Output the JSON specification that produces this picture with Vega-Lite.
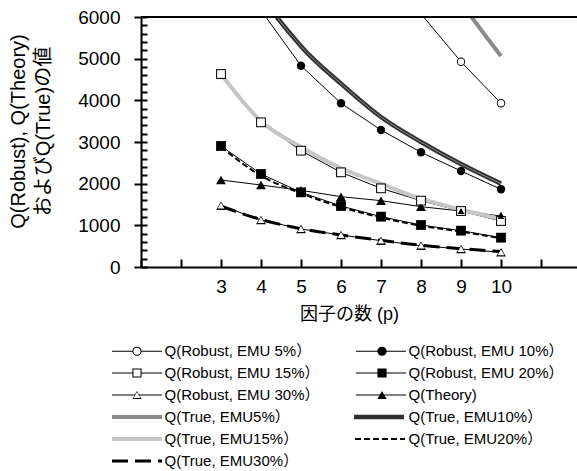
{
  "$schema": "https://vega.github.io/schema/vega-lite/v6.json",
  "width": 436,
  "height": 250,
  "autosize": {"type": "none"},
  "padding": {"left": 141, "top": 17, "right": 0, "bottom": 204},
  "background": "white",
  "config": {
    "view": {"stroke": null},
    "font": "Liberation Sans, Noto Sans CJK JP",
    "legend": {
      "title": null, "orient": "none", "legendX": -29.5, "legendY": 326.5,
      "direction": "horizontal", "columns": 2, "clipHeight": 15,
      "labelFontSize": 15, "labelFont": "Liberation Sans, Noto Sans CJK JP", "labelColor": "black",
      "rowPadding": 6, "columnPadding": 35, "padding": 0, "labelLimit": 0,
      "symbolType": "stroke", "symbolSize": 2500
    }
  },
  "resolve": {
    "scale": {"stroke": "independent", "shape": "independent", "fill": "independent"},
    "legend": {"stroke": "independent", "shape": "independent", "fill": "independent"},
    "axis": {"y": "independent"}
  },
  "datasets": {
    "d": [
      {"p": 3, "s": "Q(Robust, EMU 5%）", "v": 25000},
      {"p": 4, "s": "Q(Robust, EMU 5%）", "v": 17000},
      {"p": 5, "s": "Q(Robust, EMU 5%）", "v": 12500},
      {"p": 6, "s": "Q(Robust, EMU 5%）", "v": 9600},
      {"p": 7, "s": "Q(Robust, EMU 5%）", "v": 7600},
      {"p": 8, "s": "Q(Robust, EMU 5%）", "v": 6074},
      {"p": 9, "s": "Q(Robust, EMU 5%）", "v": 4927},
      {"p": 10, "s": "Q(Robust, EMU 5%）", "v": 3929},
      {"p": 3, "s": "Q(Robust, EMU 10%）", "v": 8100},
      {"p": 4, "s": "Q(Robust, EMU 10%）", "v": 6160},
      {"p": 5, "s": "Q(Robust, EMU 10%）", "v": 4831},
      {"p": 6, "s": "Q(Robust, EMU 10%）", "v": 3929},
      {"p": 7, "s": "Q(Robust, EMU 10%）", "v": 3288},
      {"p": 8, "s": "Q(Robust, EMU 10%）", "v": 2753},
      {"p": 9, "s": "Q(Robust, EMU 10%）", "v": 2304},
      {"p": 10, "s": "Q(Robust, EMU 10%）", "v": 1865},
      {"p": 3, "s": "Q(Robust, EMU 15%）", "v": 4632},
      {"p": 4, "s": "Q(Robust, EMU 15%）", "v": 3472},
      {"p": 5, "s": "Q(Robust, EMU 15%）", "v": 2792},
      {"p": 6, "s": "Q(Robust, EMU 15%）", "v": 2272},
      {"p": 7, "s": "Q(Robust, EMU 15%）", "v": 1888},
      {"p": 8, "s": "Q(Robust, EMU 15%）", "v": 1592},
      {"p": 9, "s": "Q(Robust, EMU 15%）", "v": 1344},
      {"p": 10, "s": "Q(Robust, EMU 15%）", "v": 1104},
      {"p": 3, "s": "Q(Robust, EMU 20%）", "v": 2904},
      {"p": 4, "s": "Q(Robust, EMU 20%）", "v": 2232},
      {"p": 5, "s": "Q(Robust, EMU 20%）", "v": 1792},
      {"p": 6, "s": "Q(Robust, EMU 20%）", "v": 1464},
      {"p": 7, "s": "Q(Robust, EMU 20%）", "v": 1208},
      {"p": 8, "s": "Q(Robust, EMU 20%）", "v": 1008},
      {"p": 9, "s": "Q(Robust, EMU 20%）", "v": 872},
      {"p": 10, "s": "Q(Robust, EMU 20%）", "v": 704},
      {"p": 3, "s": "Q(Robust, EMU 30%）", "v": 1472},
      {"p": 4, "s": "Q(Robust, EMU 30%）", "v": 1128},
      {"p": 5, "s": "Q(Robust, EMU 30%）", "v": 912},
      {"p": 6, "s": "Q(Robust, EMU 30%）", "v": 768},
      {"p": 7, "s": "Q(Robust, EMU 30%）", "v": 632},
      {"p": 8, "s": "Q(Robust, EMU 30%）", "v": 512},
      {"p": 9, "s": "Q(Robust, EMU 30%）", "v": 432},
      {"p": 10, "s": "Q(Robust, EMU 30%）", "v": 352},
      {"p": 3, "s": "Q(Theory)", "v": 2088},
      {"p": 4, "s": "Q(Theory)", "v": 1968},
      {"p": 5, "s": "Q(Theory)", "v": 1840},
      {"p": 6, "s": "Q(Theory)", "v": 1688},
      {"p": 7, "s": "Q(Theory)", "v": 1592},
      {"p": 8, "s": "Q(Theory)", "v": 1448},
      {"p": 9, "s": "Q(Theory)", "v": 1344},
      {"p": 10, "s": "Q(Theory)", "v": 1224},
      {"p": 3, "s": "Q(True, EMU5%）", "v": 30000},
      {"p": 4, "s": "Q(True, EMU5%）", "v": 20000},
      {"p": 5, "s": "Q(True, EMU5%）", "v": 15000},
      {"p": 6, "s": "Q(True, EMU5%）", "v": 11500},
      {"p": 7, "s": "Q(True, EMU5%）", "v": 9500},
      {"p": 8, "s": "Q(True, EMU5%）", "v": 7800},
      {"p": 9, "s": "Q(True, EMU5%）", "v": 6350},
      {"p": 10, "s": "Q(True, EMU5%）", "v": 5064},
      {"p": 3, "s": "Q(True, EMU10%）", "v": 8800},
      {"p": 4, "s": "Q(True, EMU10%）", "v": 6600},
      {"p": 5, "s": "Q(True, EMU10%）", "v": 5300},
      {"p": 6, "s": "Q(True, EMU10%）", "v": 4400},
      {"p": 7, "s": "Q(True, EMU10%）", "v": 3600},
      {"p": 8, "s": "Q(True, EMU10%）", "v": 3000},
      {"p": 9, "s": "Q(True, EMU10%）", "v": 2470},
      {"p": 10, "s": "Q(True, EMU10%）", "v": 2000},
      {"p": 3, "s": "Q(True, EMU15%）", "v": 4630},
      {"p": 4, "s": "Q(True, EMU15%）", "v": 3500},
      {"p": 5, "s": "Q(True, EMU15%）", "v": 2880},
      {"p": 6, "s": "Q(True, EMU15%）", "v": 2370},
      {"p": 7, "s": "Q(True, EMU15%）", "v": 2000},
      {"p": 8, "s": "Q(True, EMU15%）", "v": 1640},
      {"p": 9, "s": "Q(True, EMU15%）", "v": 1380},
      {"p": 10, "s": "Q(True, EMU15%）", "v": 1150},
      {"p": 3, "s": "Q(True, EMU20%）", "v": 2880},
      {"p": 4, "s": "Q(True, EMU20%）", "v": 2190},
      {"p": 5, "s": "Q(True, EMU20%）", "v": 1770},
      {"p": 6, "s": "Q(True, EMU20%）", "v": 1440},
      {"p": 7, "s": "Q(True, EMU20%）", "v": 1190},
      {"p": 8, "s": "Q(True, EMU20%）", "v": 990},
      {"p": 9, "s": "Q(True, EMU20%）", "v": 850},
      {"p": 10, "s": "Q(True, EMU20%）", "v": 690},
      {"p": 3, "s": "Q(True, EMU30%）", "v": 1460},
      {"p": 4, "s": "Q(True, EMU30%）", "v": 1140},
      {"p": 5, "s": "Q(True, EMU30%）", "v": 920},
      {"p": 6, "s": "Q(True, EMU30%）", "v": 770},
      {"p": 7, "s": "Q(True, EMU30%）", "v": 640},
      {"p": 8, "s": "Q(True, EMU30%）", "v": 520},
      {"p": 9, "s": "Q(True, EMU30%）", "v": 440},
      {"p": 10, "s": "Q(True, EMU30%）", "v": 370}
    ]
  },
  "data": {"name": "d"},
  "layer": [
    {
      "transform": [{"filter": "indexof(datum.s, 'True') < 0"}],
      "mark": {"type": "line", "clip": true, "strokeWidth": 1},
      "encoding": {
        "x": {
          "field": "p", "type": "quantitative",
          "scale": {"domain": [1, 11.9], "nice": false, "zero": false},
          "axis": {
            "values": [1, 2, 3, 4, 5, 6, 7, 8, 9, 10, 11],
            "labelExpr": "datum.value >= 3 && datum.value <= 10 ? datum.label : ''",
            "format": "d",
            "grid": false,
            "tickSize": -8, "tickWidth": 2, "tickColor": "black",
            "domainColor": "black", "domainWidth": 2,
            "labelFontSize": 19, "labelColor": "black", "labelPadding": 18,
            "labelFont": "Liberation Sans", "labelOverlap": false, "labelFlush": false,
            "title": "因子の数 (p)",
            "titleFont": "Liberation Sans, Noto Sans CJK JP",
            "titleFontSize": 18, "titleFontWeight": "normal", "titleColor": "black",
            "titleX": 208, "titleY": 47, "titleBaseline": "middle", "titleAlign": "center"
          }
        },
        "y": {
          "field": "v", "type": "quantitative",
          "scale": {"domain": [0, 6000], "nice": false},
          "axis": {
            "orient": "left",
            "values": [0, 1000, 2000, 3000, 4000, 5000, 6000],
            "format": "d",
            "grid": false,
            "tickSize": 7, "tickWidth": 2, "tickColor": "black",
            "domainColor": "black", "domainWidth": 2,
            "labelFontSize": 19, "labelColor": "black", "labelPadding": 14,
            "labelFont": "Liberation Sans", "labelOverlap": false, "labelFlush": false,
            "title": ["Q(Robust), Q(Theory)", "およびQ(True)の値"],
            "titleFont": "Liberation Sans, Noto Sans CJK JP",
            "titleFontSize": 20, "titleFontWeight": "normal", "titleColor": "black",
            "titleX": -122.5, "titleY": 114, "titleAngle": -90,
            "titleAlign": "center", "titleBaseline": "middle", "titleLineHeight": 25
          }
        },
        "stroke": {
          "field": "s", "type": "nominal",
          "scale": {
            "domain": ["Q(Robust, EMU 5%）", "Q(Robust, EMU 10%）", "Q(Robust, EMU 15%）", "Q(Robust, EMU 20%）", "Q(Robust, EMU 30%）", "Q(Theory)", "Q(True, EMU5%）", "Q(True, EMU10%）", "Q(True, EMU15%）", "Q(True, EMU20%）", "Q(True, EMU30%）"],
            "range": ["black", "black", "black", "black", "black", "black", "transparent", "transparent", "transparent", "transparent", "transparent"]
          },
          "legend": {"symbolStrokeWidth": 1, "labelOffset": 2, "symbolOffset": 0, "zindex": 0}
        }
      }
    },
    {
      "transform": [{"filter": "datum.s === 'Q(True, EMU5%）' || datum.s === 'Q(True, EMU15%）'"}],
      "mark": {"type": "line", "clip": true, "interpolate": "monotone", "strokeWidth": 4},
      "encoding": {
        "x": {"field": "p", "type": "quantitative"},
        "y": {"field": "v", "type": "quantitative", "axis": null},
        "stroke": {
          "field": "s", "type": "nominal",
          "scale": {
            "domain": ["Q(Robust, EMU 5%）", "Q(Robust, EMU 10%）", "Q(Robust, EMU 15%）", "Q(Robust, EMU 20%）", "Q(Robust, EMU 30%）", "Q(Theory)", "Q(True, EMU5%）", "Q(True, EMU10%）", "Q(True, EMU15%）", "Q(True, EMU20%）", "Q(True, EMU30%）"],
            "range": ["transparent", "transparent", "transparent", "transparent", "transparent", "transparent", "#8a8a8a", "transparent", "#c6c6c6", "transparent", "transparent"]
          },
          "legend": {"symbolStrokeWidth": 4, "labelOffset": -1, "symbolOffset": -1.5, "labelOpacity": 0, "zindex": 1}
        }
      }
    },
    {
      "transform": [{"filter": "datum.s === 'Q(True, EMU10%）'"}],
      "mark": {"type": "line", "clip": true, "interpolate": "monotone", "strokeWidth": 4.5},
      "encoding": {
        "x": {"field": "p", "type": "quantitative"},
        "y": {"field": "v", "type": "quantitative", "axis": null},
        "stroke": {
          "field": "s", "type": "nominal",
          "scale": {
            "domain": ["Q(Robust, EMU 5%）", "Q(Robust, EMU 10%）", "Q(Robust, EMU 15%）", "Q(Robust, EMU 20%）", "Q(Robust, EMU 30%）", "Q(Theory)", "Q(True, EMU5%）", "Q(True, EMU10%）", "Q(True, EMU15%）", "Q(True, EMU20%）", "Q(True, EMU30%）"],
            "range": ["transparent", "transparent", "transparent", "transparent", "transparent", "transparent", "transparent", "#303030", "transparent", "transparent", "transparent"]
          },
          "legend": {"symbolStrokeWidth": 4.5, "labelOffset": -2, "symbolOffset": -2, "labelOpacity": 0, "zindex": 1}
        }
      }
    },
    {
      "transform": [{"filter": "datum.s === 'Q(True, EMU10%）'"}],
      "mark": {"type": "line", "clip": true, "interpolate": "monotone", "stroke": "#8a8a8a", "strokeWidth": 1},
      "encoding": {
        "x": {"field": "p", "type": "quantitative"},
        "y": {"field": "v", "type": "quantitative", "axis": null}
      }
    },
    {
      "transform": [{"filter": "datum.s === 'Q(True, EMU20%）'"}],
      "mark": {"type": "line", "clip": true, "interpolate": "monotone", "strokeWidth": 2, "strokeDash": [6, 3]},
      "encoding": {
        "x": {"field": "p", "type": "quantitative"},
        "y": {"field": "v", "type": "quantitative", "axis": null},
        "stroke": {
          "field": "s", "type": "nominal",
          "scale": {
            "domain": ["Q(Robust, EMU 5%）", "Q(Robust, EMU 10%）", "Q(Robust, EMU 15%）", "Q(Robust, EMU 20%）", "Q(Robust, EMU 30%）", "Q(Theory)", "Q(True, EMU5%）", "Q(True, EMU10%）", "Q(True, EMU15%）", "Q(True, EMU20%）", "Q(True, EMU30%）"],
            "range": ["transparent", "transparent", "transparent", "transparent", "transparent", "transparent", "transparent", "transparent", "transparent", "black", "transparent"]
          },
          "legend": {"symbolStrokeWidth": 2, "symbolDash": [6, 3], "labelOffset": 1, "symbolOffset": -0.5, "labelOpacity": 0, "zindex": 1}
        }
      }
    },
    {
      "transform": [{"filter": "datum.s === 'Q(True, EMU30%）'"}],
      "mark": {"type": "line", "clip": true, "interpolate": "monotone", "strokeWidth": 3, "strokeDash": [16, 7]},
      "encoding": {
        "x": {"field": "p", "type": "quantitative"},
        "y": {"field": "v", "type": "quantitative", "axis": null},
        "stroke": {
          "field": "s", "type": "nominal",
          "scale": {
            "domain": ["Q(Robust, EMU 5%）", "Q(Robust, EMU 10%）", "Q(Robust, EMU 15%）", "Q(Robust, EMU 20%）", "Q(Robust, EMU 30%）", "Q(Theory)", "Q(True, EMU5%）", "Q(True, EMU10%）", "Q(True, EMU15%）", "Q(True, EMU20%）", "Q(True, EMU30%）"],
            "range": ["transparent", "transparent", "transparent", "transparent", "transparent", "transparent", "transparent", "transparent", "transparent", "transparent", "black"]
          },
          "legend": {"symbolStrokeWidth": 3, "symbolDash": [16, 7], "labelOffset": 0, "symbolOffset": -1, "labelOpacity": 0, "zindex": 1}
        }
      }
    },
    {
      "transform": [{"filter": "indexof(datum.s, 'True') < 0"}],
      "mark": {"type": "point", "clip": true, "filled": true, "opacity": 1, "strokeWidth": 0},
      "encoding": {
        "x": {"field": "p", "type": "quantitative"},
        "y": {"field": "v", "type": "quantitative", "axis": null},
        "size": {"condition": {"test": "indexof(datum.s, 'EMU 5%') >= 0 || indexof(datum.s, 'EMU 10%') >= 0", "value": 70}, "value": 96},
        "shape": {
          "field": "s", "type": "nominal",
          "scale": {
            "domain": ["Q(Robust, EMU 5%）", "Q(Robust, EMU 10%）", "Q(Robust, EMU 15%）", "Q(Robust, EMU 20%）", "Q(Robust, EMU 30%）", "Q(Theory)"],
            "range": ["circle", "circle", "square", "square", "triangle-up", "triangle-up"]
          },
          "legend": {
            "labelOpacity": 0, "labelOffset": 38, "symbolOffset": 18, "columnPadding": 18,
            "symbolStrokeWidth": 0, "symbolOpacity": 1,
            "symbolType": "circle", "symbolSize": 84,
            "zindex": 2
          }
        },
        "fill": {
          "field": "s", "type": "nominal",
          "scale": {
            "domain": ["Q(Robust, EMU 5%）", "Q(Robust, EMU 10%）", "Q(Robust, EMU 15%）", "Q(Robust, EMU 20%）", "Q(Robust, EMU 30%）", "Q(Theory)"],
            "range": ["black", "black", "black", "black", "black", "black"]
          }
        }
      }
    },
    {
      "transform": [{"filter": "indexof(datum.s, 'True') < 0"}],
      "mark": {"type": "point", "clip": true, "filled": true, "opacity": 1, "strokeWidth": 0},
      "encoding": {
        "x": {"field": "p", "type": "quantitative"},
        "y": {"field": "v", "type": "quantitative", "axis": null},
        "size": {"condition": [
          {"test": "indexof(datum.s, 'EMU 5%') >= 0 || indexof(datum.s, 'EMU 10%') >= 0", "value": 42},
          {"test": "indexof(datum.s, '30%') >= 0 || indexof(datum.s, 'Theory') >= 0", "value": 46}
        ], "value": 60},
        "shape": {
          "field": "s", "type": "nominal",
          "scale": {
            "domain": ["Q(Robust, EMU 5%）", "Q(Robust, EMU 10%）", "Q(Robust, EMU 15%）", "Q(Robust, EMU 20%）", "Q(Robust, EMU 30%）", "Q(Theory)"],
            "range": ["circle", "circle", "square", "square", "triangle-up", "triangle-up"]
          },
          "legend": {
            "labelOpacity": 0, "labelOffset": 38, "symbolOffset": 18, "columnPadding": 18,
            "symbolStrokeWidth": 0, "symbolOpacity": 1,
            "symbolType": "circle", "symbolSize": 50,
            "zindex": 3
          }
        },
        "fill": {
          "field": "s", "type": "nominal",
          "scale": {
            "domain": ["Q(Robust, EMU 5%）", "Q(Robust, EMU 10%）", "Q(Robust, EMU 15%）", "Q(Robust, EMU 20%）", "Q(Robust, EMU 30%）", "Q(Theory)"],
            "range": ["white", "black", "white", "black", "white", "black"]
          }
        }
      }
    },
    {
      "data": {"values": [{"top": 6000}]},
      "mark": {"type": "rule", "stroke": "black", "strokeWidth": 2},
      "encoding": {
        "y": {
          "field": "top", "type": "quantitative",
          "axis": {
            "orient": "left",
            "values": [0, 200, 400, 600, 800, 1000, 1200, 1400, 1600, 1800, 2000, 2200, 2400, 2600, 2800, 3000, 3200, 3400, 3600, 3800, 4000, 4200, 4400, 4600, 4800, 5000, 5200, 5400, 5600, 5800, 6000],
            "labels": false, "domain": false, "grid": false, "title": null,
            "tickSize": -6, "tickWidth": 2, "tickColor": "black"
          }
        }
      }
    }
  ]
}
